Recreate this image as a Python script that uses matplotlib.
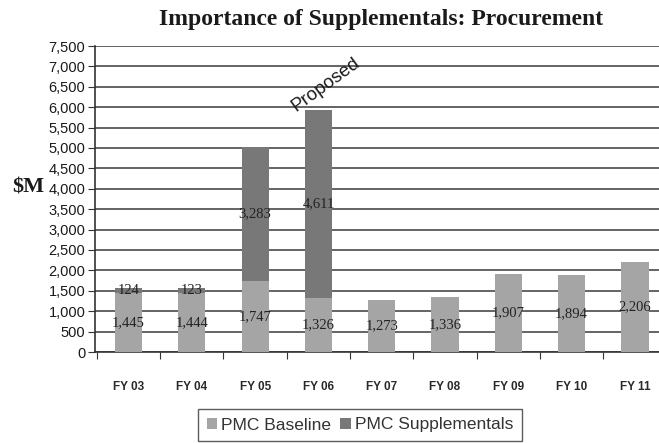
import matplotlib.pyplot as plt
import numpy as np

# procurement funding, $M
anos = ["FY 03", "FY 04", "FY 05", "FY 06", "FY 07", "FY 08", "FY 09", "FY 10", "FY 11"]
base = [1445, 1444, 1747, 1326, 1273, 1336, 1907, 1894, 2206]
supl = [124, 123, 3283, 4611, 0, 0, 0, 0, 0]

x = np.arange(len(anos))
base = np.array(base)
supl = np.array(supl)

fig = plt.figure(figsize=(6.59, 4.43), dpi=100)
ax = fig.add_axes([95/659, 1-352/443, 564/659, 306/443])

c_base = "#a5a5a5"
c_supl = "#787878"
ancho = 0.43

ax.bar(x, base, ancho, color=c_base, label="PMC Baseline", zorder=3)
ax.bar(x, supl, ancho, bottom=base, color=c_supl, label="PMC Supplementals", zorder=3)

# etiquetas de valores en el centro de cada tramo
serif = "Liberation Serif"
for i in range(len(anos)):
    ax.text(x[i], base[i]/2, f"{base[i]:,}", ha="center", va="center",
            fontsize=10.5, family=serif, color="#222222", zorder=4)
    if supl[i] > 0:
        ax.text(x[i], base[i] + supl[i]/2, f"{supl[i]:,}", ha="center", va="center",
                fontsize=10.5, family=serif, color="#222222", zorder=4)

ax.text(3.12, 6550, "Proposed", rotation=36, rotation_mode="anchor",
        ha="center", va="center", fontsize=13.5, family="Liberation Sans",
        color="#1a1a1a")

ax.set_xlim(-0.53, 8.38)
ax.set_ylim(0, 7500)
ax.set_yticks(np.arange(0, 7501, 500))
ax.set_yticklabels([f"{v:,}" for v in range(0, 7501, 500)],
                   family="Liberation Sans", fontsize=10.5, color="#1a1a1a")
ax.yaxis.grid(True, color="#3a3a3a", linewidth=1.1, zorder=0)
ax.set_axisbelow(True)

# marcas del eje x entre categorias, nombres sin marca
ax.set_xticks(np.arange(-0.5, 8.5, 1.0))
ax.set_xticklabels([])
ax.set_xticks(x, minor=True)
ax.set_xticklabels(anos, minor=True, family="Liberation Sans", fontsize=8.5,
                   fontweight="bold", color="#2a2a2a")
ax.tick_params(axis="x", which="minor", length=0, pad=21)
ax.tick_params(axis="x", which="major", length=5, color="#333333")
ax.tick_params(axis="y", length=5, color="#333333", pad=2)

for s in ["top", "right"]:
    ax.spines[s].set_visible(False)
ax.spines["left"].set_color("#333333")
ax.spines["bottom"].set_color("#333333")
ax.spines["left"].set_linewidth(1.2)
ax.spines["bottom"].set_linewidth(1.2)

fig.text(381/659, 1-19/443, "Importance of Supplementals: Procurement", ha="center", va="center",
         family=serif, fontweight="bold", fontsize=17, color="#1a1a1a")
fig.text(28/659, 1-187/443, "$M", ha="center", va="center",
         family=serif, fontweight="bold", fontsize=16, color="#1a1a1a")

leg = fig.legend(loc="center", bbox_to_anchor=(360/659, 1-425/443), ncol=2,
                 frameon=True, fancybox=False, handlelength=0.6, handleheight=0.6,
                 handletextpad=0.25, columnspacing=0.5, borderpad=0.5,
                 prop={"family": "Liberation Sans", "size": 12.5})
leg.get_frame().set_edgecolor("#333333")
leg.get_frame().set_linewidth(1.0)
for t in leg.get_texts():
    t.set_color("#333333")

fig.savefig("out.png", dpi=100)
